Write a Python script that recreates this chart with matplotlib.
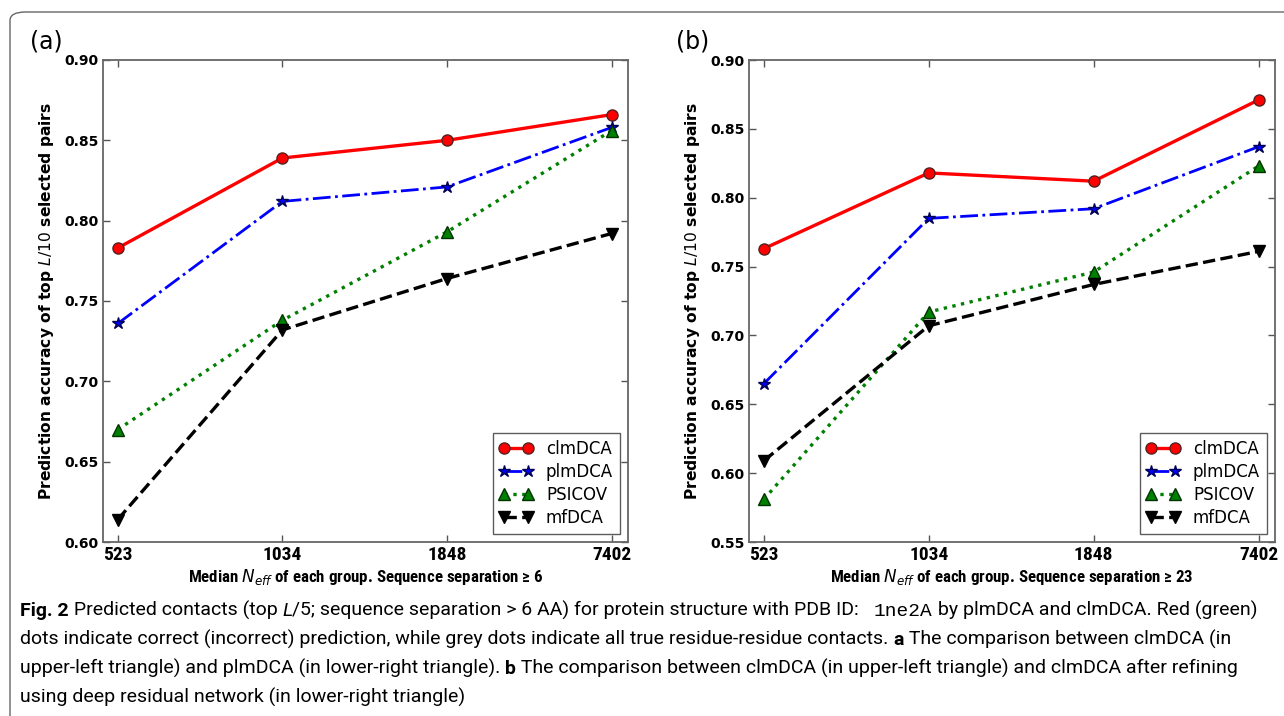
"""
Accuracy vs. median Neff for clmDCA / plmDCA / PSICOV / mfDCA (two panels + caption)
"""

import matplotlib
matplotlib.use("Agg")
import matplotlib.pyplot as plt
from matplotlib import font_manager
from matplotlib.patches import FancyBboxPatch


# x categories (median Neff of each group)
neff_labels = ["523", "1034", "1848", "7402"]

# panel (a): sequence separation >= 6
a_clmdca = [0.783, 0.839, 0.850, 0.866]
a_plmdca = [0.736, 0.812, 0.821, 0.858]
a_psicov = [0.670, 0.738, 0.793, 0.856]
a_mfdca = [0.614, 0.732, 0.764, 0.792]

# panel (b): sequence separation >= 23
b_clmdca = [0.763, 0.818, 0.812, 0.871]
b_plmdca = [0.665, 0.785, 0.792, 0.837]
b_psicov = [0.581, 0.717, 0.746, 0.823]
b_mfdca = [0.609, 0.707, 0.737, 0.761]

methods = ["clmDCA", "plmDCA", "PSICOV", "mfDCA"]


def first_font(names, default):
    installed = {f.name for f in font_manager.fontManager.ttflist}
    for n in names:
        if n in installed:
            return n
    return default


NARROW = first_font(["DejaVu Sans Condensed", "Liberation Sans Narrow", "Roboto Condensed",
                     "Open Sans Condensed"], "Roboto")
CAPTION = first_font(["Roboto"], "DejaVu Sans")
MONO = first_font(["Liberation Mono"], "DejaVu Sans Mono")

STYLES = {
    "clmDCA": dict(color="red", ls="-", lw=2.4, marker="o", ms=8, mfc="red", mec="#552222"),
    "plmDCA": dict(color="blue", ls="-.", lw=2.0, marker="*", ms=9, mfc="blue", mec="#000055"),
    "PSICOV": dict(color="green", ls=":", lw=2.4, marker="^", ms=8, mfc="green", mec="#003300"),
    "mfDCA": dict(color="black", ls="--", lw=2.4, marker="v", ms=8, mfc="black", mec="black"),
}


def draw_panel(ax, series, ylim, yticks, sep):
    x = range(len(neff_labels))
    for name, vals in zip(methods, series):
        ax.plot(x, vals, label=name, **STYLES[name])
    ax.set_xlim(-0.09, 3.1)
    ax.set_ylim(*ylim)
    ax.set_xticks(list(x))
    ax.set_xticklabels(neff_labels, fontsize=14, fontweight="bold", family=NARROW)
    ax.set_yticks(yticks)
    ax.set_yticklabels([f"{t:.2f}" for t in yticks], fontsize=10, fontweight="bold")
    ax.tick_params(direction="in", top=True, right=True, length=5, width=1, color="#555555", pad=3)
    for sp in ax.spines.values():
        sp.set_color("#666666")
        sp.set_linewidth(1.3)
    ax.set_ylabel(r"Prediction accuracy of top $L/10$ selected pairs", fontsize=11.2,
                  fontweight="bold", labelpad=6)
    ax.set_xlabel(r"Median $N_{eff}$ of each group. Sequence separation ≥ " + sep,
                  fontsize=12.2, fontweight="bold", family=NARROW, labelpad=2)
    leg = ax.legend(loc="lower right", numpoints=2, fontsize=12, fancybox=False,
                    handlelength=2.0, borderaxespad=0.5, labelspacing=0.3)
    leg.get_frame().set_edgecolor("#333333")
    leg.get_frame().set_linewidth(1.0)


def caption_line(fig, x0, y, runs, size):
    renderer = fig.canvas.get_renderer()
    x = x0
    for txt, style in runs:
        kw = dict(fontsize=size, family=CAPTION, va="baseline", ha="left")
        if style == "b":
            kw["fontweight"] = "bold"
        elif style == "i":
            kw["style"] = "italic"
        elif style == "m":
            kw["family"] = MONO
        t = fig.text(x / 1284, 1 - y / 716, txt, **kw)
        bb = t.get_window_extent(renderer=renderer)
        x += bb.width


def main():
    fig = plt.figure(figsize=(12.84, 7.16), dpi=100)

    # outer rounded frame (only top-left part visible)
    frame = FancyBboxPatch((10 / 1284, -0.2), 1.2, 1 - 12 / 716 + 0.2,
                           boxstyle="round,pad=0,rounding_size=0.012",
                           transform=fig.transFigure, fill=False,
                           edgecolor="#666666", lw=1.0, clip_on=False)
    fig.patches.append(frame)

    ax_a = fig.add_axes([103 / 1284, 1 - 542 / 716, 525 / 1284, 482 / 716])
    ax_b = fig.add_axes([749 / 1284, 1 - 542 / 716, 526 / 1284, 482 / 716])

    draw_panel(ax_a, [a_clmdca, a_plmdca, a_psicov, a_mfdca], (0.60, 0.90),
               [0.60, 0.65, 0.70, 0.75, 0.80, 0.85, 0.90], "6")
    draw_panel(ax_b, [b_clmdca, b_plmdca, b_psicov, b_mfdca], (0.55, 0.90),
               [0.55, 0.60, 0.65, 0.70, 0.75, 0.80, 0.85, 0.90], "23")

    fig.text(30 / 1284, 1 - 42 / 716, "(a)", fontsize=17, va="center", ha="left")
    fig.text(676 / 1284, 1 - 42 / 716, "(b)", fontsize=17, va="center", ha="left")

    fig.canvas.draw()
    cs = 14
    caption_line(fig, 20, 616, [
        ("Fig. 2", "b"), (" Predicted contacts (top ", "r"), ("L", "i"),
        ("/5; sequence separation > 6 AA) for protein structure with PDB ID:   ", "r"),
        ("1ne2A", "m"), (" by plmDCA and clmDCA. Red (green)", "r")], cs)
    caption_line(fig, 20, 645, [
        ("dots indicate correct (incorrect) prediction, while grey dots indicate all true "
         "residue-residue contacts. ", "r"), ("a", "b"),
        (" The comparison between clmDCA (in", "r")], cs)
    caption_line(fig, 20, 674, [
        ("upper-left triangle) and plmDCA (in lower-right triangle). ", "r"), ("b", "b"),
        (" The comparison between clmDCA (in upper-left triangle) and clmDCA after refining", "r")], cs)
    caption_line(fig, 20, 703, [
        ("using deep residual network (in lower-right triangle)", "r")], cs)

    fig.savefig("out.png", dpi=100)
    plt.close(fig)


if __name__ == "__main__":
    main()
